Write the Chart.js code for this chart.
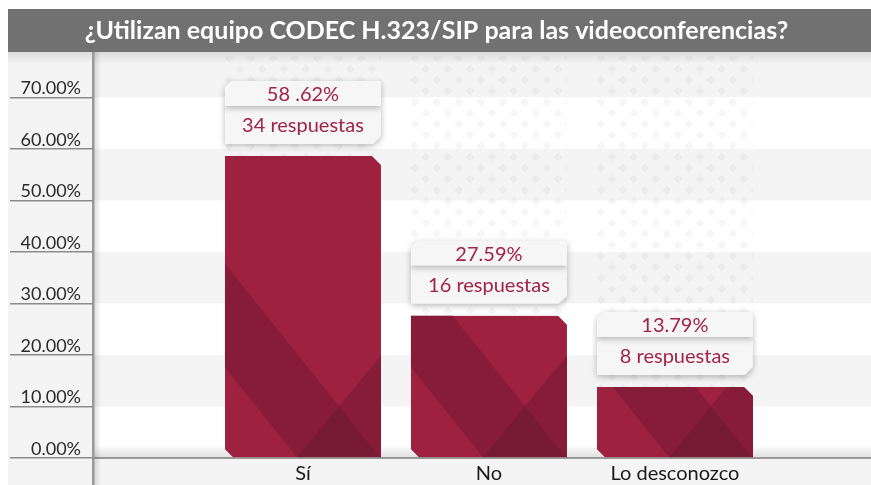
<!DOCTYPE html>
<html>
<head>
<meta charset="utf-8">
<script src="https://cdn.jsdelivr.net/npm/chart.js@4.4.1/dist/chart.umd.min.js"></script>
<style>
  html, body { margin: 0; padding: 0; background: #fff; }
  #wrap { width: 871px; height: 485px; }
</style>
</head>
<body>
<div id="wrap"><canvas id="chart" width="871" height="485"></canvas></div>
<script>
// data
const categories = ['Sí', 'No', 'Lo desconozco'];
const percentValues = [58.62, 27.59, 13.79];
const percentLabels = ['58 .62%', '27.59%', '13.79%'];
const responseCounts = [34, 16, 8];
const yTicks = [0, 10, 20, 30, 40, 50, 60, 70];
const titleText = '¿Utilizan equipo CODEC H.323/SIP para las videoconferencias?';

const BAR_BASE = '#9e2240';
const BAR_MID = '#871c38';
const BAR_DARK = '#771a33';
const TEXT_RED = '#a12347';
const FONT = 'Lato, "Open Sans", sans-serif';

// --- helpers ---
function barGeom(el) {
  const p = el.getProps(['x', 'y', 'base', 'width'], true);
  return { L: p.x - p.width / 2, R: p.x + p.width / 2, T: p.y, B: p.base, W: p.width };
}

function barOutline(ctx, g) {
  ctx.moveTo(g.L, g.T);
  ctx.lineTo(g.R - 9, g.T);
  ctx.lineTo(g.R, g.T + 9);
  ctx.lineTo(g.R, g.B);
  ctx.lineTo(g.L + 8, g.B);
  ctx.lineTo(g.L, g.B - 8);
  ctx.closePath();
}

function poly(ctx, g, pts, color) {
  const s = g.W / 156;
  ctx.beginPath();
  pts.forEach(([dx, du], i) => {
    const px = g.L + dx * s, py = g.B - du * s;
    i ? ctx.lineTo(px, py) : ctx.moveTo(px, py);
  });
  ctx.closePath();
  ctx.fillStyle = color;
  ctx.fill();
}

function ghostColumn(ctx, L, R, top, bottom) {
  ctx.save();
  ctx.beginPath();
  ctx.rect(L, top, R - L, bottom - top);
  ctx.clip();
  ctx.fillStyle = 'rgba(0,0,0,0.035)';
  const p = 22, h = 4.5;
  for (let row = 0, y = top + 2; y < bottom + p; row++, y += 11) {
    for (let x = L + 4 + (row % 2 ? 11 : 0); x < R + p; x += p) {
      ctx.beginPath();
      ctx.moveTo(x, y - h); ctx.lineTo(x + h, y); ctx.lineTo(x, y + h); ctx.lineTo(x - h, y);
      ctx.closePath();
      ctx.fill();
    }
  }
  ctx.restore();
}

function labelBox(ctx, g, pct, count) {
  const top = g.T - 75, split = top + 25, bottom = top + 63;
  const L = g.L, R = g.R;
  ctx.save();
  ctx.shadowColor = 'rgba(0,0,0,0.28)';
  ctx.shadowBlur = 6;
  ctx.shadowOffsetY = 2;
  ctx.fillStyle = '#f6f6f6';
  ctx.beginPath();
  ctx.moveTo(L, split); ctx.lineTo(R, split); ctx.lineTo(R, bottom - 8);
  ctx.lineTo(R - 8, bottom); ctx.lineTo(L, bottom);
  ctx.closePath();
  ctx.fill();
  ctx.beginPath();
  ctx.moveTo(L + 6, top); ctx.lineTo(R, top); ctx.lineTo(R, split);
  ctx.lineTo(L, split); ctx.lineTo(L, top + 6);
  ctx.closePath();
  ctx.fill();
  ctx.restore();

  ctx.save();
  ctx.fillStyle = TEXT_RED;
  ctx.font = '20px ' + FONT;
  ctx.textAlign = 'center';
  ctx.textBaseline = 'middle';
  const cx = (L + R) / 2;
  ctx.fillText(pct, cx, top + 14);
  ctx.fillText(count + ' respuestas', cx, top + 45);
  ctx.restore();
}

// ========================
// background + decorations
// ========================
const decorPlugin = {
  id: 'decor',
  beforeDraw(chart) {
    const { ctx, chartArea: a, scales } = chart;
    const y = scales.y;
    ctx.save();
    ctx.fillStyle = '#fff';
    ctx.fillRect(0, 0, chart.width, chart.height);

    // grey plot background
    ctx.fillStyle = '#f4f4f4';
    ctx.fillRect(8, 52, chart.width - 8, chart.height - 52);

    // white bands
    ctx.fillStyle = '#ffffff';
    for (let v = 0; v < 70; v += 20) {
      const y1 = y.getPixelForValue(v + 10), y2 = y.getPixelForValue(v);
      ctx.fillRect(a.left, y1, chart.width - a.left, y2 - y1);
    }

    // shadow under title bar
    let grd = ctx.createLinearGradient(0, 52, 0, 64);
    grd.addColorStop(0, 'rgba(0,0,0,0.10)');
    grd.addColorStop(1, 'rgba(0,0,0,0)');
    ctx.fillStyle = grd;
    ctx.fillRect(8, 52, chart.width - 8, 12);

    // title bar
    ctx.fillStyle = '#717171';
    ctx.fillRect(8, 9, chart.width - 8, 43);

    // ghost columns behind bars
    chart.getDatasetMeta(0).data.forEach(el => {
      const g = barGeom(el);
      ghostColumn(ctx, g.L, g.R, 56, g.T);
    });

    // x axis floor shadow + line
    const yb = y.getPixelForValue(0);
    grd = ctx.createLinearGradient(0, yb - 13, 0, yb);
    grd.addColorStop(0, 'rgba(0,0,0,0)');
    grd.addColorStop(1, 'rgba(0,0,0,0.13)');
    ctx.fillStyle = grd;
    ctx.fillRect(a.left, yb - 13, chart.width - a.left, 13);
    ctx.fillStyle = '#9a9a9a';
    ctx.fillRect(a.left, yb - 1, chart.width - a.left, 2);

    // y axis line with shadow
    grd = ctx.createLinearGradient(a.left, 0, a.left + 8, 0);
    grd.addColorStop(0, 'rgba(0,0,0,0.15)');
    grd.addColorStop(1, 'rgba(0,0,0,0)');
    ctx.fillStyle = grd;
    ctx.fillRect(a.left, 52, 8, chart.height - 52);
    ctx.fillStyle = '#9a9a9a';
    ctx.fillRect(a.left - 1, 52, 2.5, chart.height - 52);
    ctx.restore();
  },
  beforeDatasetDraw(chart) {
    const ctx = chart.ctx;
    ctx.save();
    ctx.beginPath();
    chart.getDatasetMeta(0).data.forEach(el => barOutline(ctx, barGeom(el)));
    ctx.clip();
  },
  afterDatasetDraw(chart) {
    chart.ctx.restore();
  },
  afterDatasetsDraw(chart) {
    const ctx = chart.ctx;
    chart.getDatasetMeta(0).data.forEach((el, i) => {
      const g = barGeom(el);
      ctx.save();
      ctx.beginPath();
      barOutline(ctx, g);
      ctx.clip();
      // diagonal facets
      poly(ctx, g, [[72, 0], [-328, 500], [-245, 500], [114, 51]], BAR_MID);
      poly(ctx, g, [[114, 51], [321, 300], [400, 300], [400, -100], [235, -100]], BAR_MID);
      poly(ctx, g, [[114, 51], [72, 0], [155, 0]], BAR_DARK);
      ctx.restore();
      labelBox(ctx, g, percentLabels[i], responseCounts[i]);
    });
  }
};

// ========================
// chart
// ========================
new Chart(document.getElementById('chart'), {
  type: 'bar',
  data: {
    datasets: [{
      data: percentValues.map((v, i) => ({ x: i, y: v })),
      backgroundColor: BAR_BASE,
      borderWidth: 0,
      barThickness: 156
    }]
  },
  options: {
    responsive: false,
    animation: false,
    devicePixelRatio: 1,
    layout: { padding: { top: 10, left: 8, right: 6, bottom: 2 } },
    plugins: {
      legend: { display: false },
      tooltip: { enabled: false },
      title: {
        display: true,
        text: titleText,
        color: '#ffffff',
        font: { family: FONT, size: 25, weight: 'bold' },
        padding: { top: 6, bottom: 8 }
      }
    },
    scales: {
      x: {
        type: 'linear',
        min: -1.129,
        max: 3.022,
        offset: false,
        afterBuildTicks: s => { s.ticks = categories.map((c, i) => ({ value: i })); },
        afterFit: s => { s.height = 25; },
        grid: { display: false, drawTicks: false },
        border: { display: false },
        ticks: {
          autoSkip: false,
          maxRotation: 0,
          padding: 4,
          color: '#1a1a1a',
          font: { family: FONT, size: 20 },
          callback: (v, idx) => categories[idx]
        }
      },
      y: {
        min: 0,
        max: 78.4,
        afterBuildTicks: s => { s.ticks = yTicks.map(v => ({ value: v })); },
        afterFit: s => { s.width = 85; },
        grid: { drawOnChartArea: false, drawTicks: true, tickLength: 83, color: '#8c8c8c', lineWidth: 1.5 },
        border: { display: false },
        ticks: {
          padding: -71,
          labelOffset: -9,
          color: '#2a2a2a',
          font: { family: FONT, size: 18 },
          callback: v => v.toFixed(2) + '%'
        }
      }
    }
  },
  plugins: [decorPlugin]
});
</script>
</body>
</html>
